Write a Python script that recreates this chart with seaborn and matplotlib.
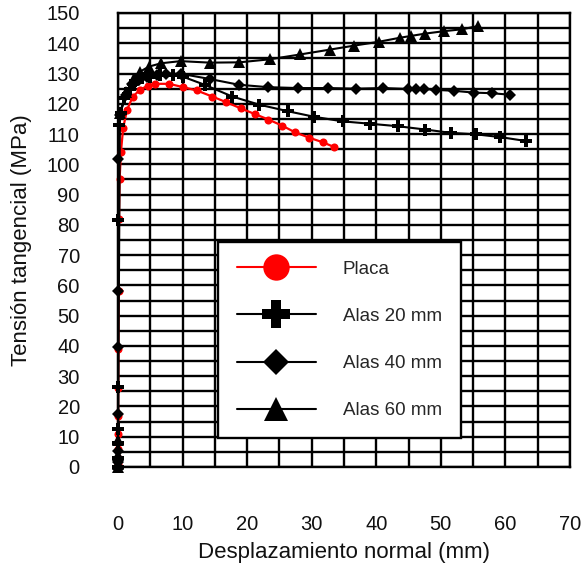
import matplotlib
matplotlib.use("Agg")
import matplotlib.pyplot as plt
from matplotlib.lines import Line2D
import pandas as pd
import seaborn as sns

# Shear stress vs normal displacement for a plain plate and flanged specimens
series_names = ["Placa", "Alas 20 mm", "Alas 40 mm", "Alas 60 mm"]

placa_x = [0, 0, 0, 0, 0, 0, 0.02, 0.05, 0.1, 0.15, 0.25, 0.45, 0.8, 1.4, 2.3,
           3.4, 4.6, 5.7, 7.9, 10.1, 12.2, 14.6, 16.8, 19.0, 21.2, 23.3, 25.4,
           27.4, 29.6, 31.7, 33.5]
placa_y = [0, 1, 3, 6, 11, 17, 26, 39, 58, 82, 95, 104, 112, 118, 122.4,
           124.6, 126.0, 126.6, 126.6, 125.5, 124.4, 122.4, 120.5, 118.5, 116.6,
           114.8, 112.8, 110.6, 108.8, 107.3, 105.7]

alas20_x = [0, 0, 0, 0, 0, 0, 0.2, 0.4, 1.0, 1.8, 2.7, 3.7, 5.0, 6.5, 8.5,
            10.0, 13.4, 17.7, 21.9, 26.4, 30.4, 34.8, 39.1, 43.3, 47.6, 51.5,
            55.5, 59.2, 63.2]
alas20_y = [0, 3.1, 8.0, 12.4, 26.5, 81.6, 113, 117, 122, 125, 127.5, 128.5,
            129, 129.5, 129.5, 129, 126.3, 122.4, 119.7, 117.5, 115.7, 114.2,
            113.4, 112.6, 111.5, 110.4, 109.9, 109.0, 107.7]

alas40_x = [0, 0, 0, 0, 0, 0, 0, 0.3, 1.2, 2.2, 3.3, 4.5, 6.0, 7.5, 9.8,
            14.2, 18.7, 23.2, 27.9, 32.5, 36.9, 41.1, 44.9, 46.1, 47.4, 49.2,
            52.0, 55.1, 57.9, 60.7]
alas40_y = [0, 1.5, 5.3, 17.6, 39.5, 58.2, 101.6, 116.4, 123, 126.5, 128,
            129, 129.5, 130, 129.9, 128.2, 126.3, 125.5, 125.2, 125.2, 125.0,
            125.2, 124.9, 124.9, 124.9, 124.6, 124.3, 123.7, 123.5, 123.0]

alas60_x = [0, 0, 0, 0, 0.3, 1.3, 2.3, 3.4, 4.8, 6.7, 9.7, 14.2, 18.8, 23.5,
            28.2, 32.8, 36.5, 40.4, 43.6, 45.3, 47.6, 50.5, 53.2, 55.8]
alas60_y = [0, 1, 4, 9, 117, 124, 127.9, 130.6, 132.3, 133.4, 134.1, 133.6,
            133.7, 134.7, 136.3, 137.9, 139.2, 140.5, 141.8, 142.4, 143.2,
            144.0, 144.6, 145.7]

x_ticks = list(range(0, 71, 10))
y_ticks = list(range(0, 151, 10))

series_data = {
    "Placa": (placa_x, placa_y),
    "Alas 20 mm": (alas20_x, alas20_y),
    "Alas 40 mm": (alas40_x, alas40_y),
    "Alas 60 mm": (alas60_x, alas60_y),
}

frames = []
for name in series_names:
    xs, ys = series_data[name]
    frames.append(pd.DataFrame({"desplazamiento": xs, "tension": ys,
                                "serie": name, "orden": range(len(xs))}))
df = pd.concat(frames, ignore_index=True)

sns.set_theme(style="white")
plt.rcParams["font.family"] = ["Liberation Sans", "DejaVu Sans"]

fig = plt.figure(figsize=(5.85, 5.67), dpi=100)
ax = fig.add_axes([118 / 585, 1 - 467 / 567, 452 / 585, 454 / 567])

# marker size on the curves / marker size in the key
styles = {
    "Placa": dict(color="#ff0000", marker="o", ms=5.8, key_ms=19, lw=1.6),
    "Alas 20 mm": dict(color="black", marker="P", ms=8.5, key_ms=20.5, lw=1.5),
    "Alas 40 mm": dict(color="black", marker="D", ms=6.2, key_ms=13.5, lw=1.5),
    "Alas 60 mm": dict(color="black", marker="^", ms=8.8, key_ms=17.5, lw=1.5),
}

for name in series_names:
    st = styles[name]
    sns.lineplot(data=df[df["serie"] == name], x="desplazamiento", y="tension",
                 estimator=None, sort=False, ax=ax, legend=False,
                 color=st["color"], marker=st["marker"],
                 markersize=st["ms"], linewidth=st["lw"],
                 markeredgewidth=0, markerfacecolor=st["color"],
                 clip_on=False, zorder=3)

ax.set_xlim(0, 70)
ax.set_ylim(0, 150)
ax.set_xticks(x_ticks)
ax.set_xticks(range(5, 70, 10), minor=True)
ax.set_yticks(y_ticks)
ax.set_yticks(range(5, 150, 10), minor=True)

grid_lw = 1.7
ax.grid(which="both", color="black", linewidth=grid_lw)
ax.set_axisbelow(True)
for sp in ax.spines.values():
    sp.set_visible(True)
    sp.set_color("black")
    sp.set_linewidth(grid_lw)

ax.tick_params(axis="both", which="major", direction="out", length=13.5,
               width=grid_lw, color="black", labelsize=14.5, labelcolor="#111111")
ax.tick_params(axis="both", which="minor", direction="out", length=7.5,
               width=grid_lw, color="black")
ax.tick_params(axis="x", which="major", pad=21)
ax.tick_params(axis="y", which="major", pad=14)

ax.set_xlabel("Desplazamiento normal (mm)", fontsize=16, color="#111111",
              labelpad=6)
ax.set_ylabel("Tensión tangencial (MPa)", fontsize=16, color="#111111",
              labelpad=10)

handles = [Line2D([], [], color=styles[n]["color"], lw=1.5,
                  marker=styles[n]["marker"], markersize=styles[n]["key_ms"],
                  markeredgewidth=0, markerfacecolor=styles[n]["color"])
           for n in series_names]
leg = ax.legend(handles, series_names, loc="upper left",
                bbox_to_anchor=(218 / 585, 1 - 242 / 567),
                bbox_transform=fig.transFigure, borderaxespad=0,
                fontsize=13.5, handlelength=4.2, handletextpad=1.45,
                labelspacing=1.6, borderpad=1.0,
                fancybox=False, framealpha=1, edgecolor="black")
leg.get_frame().set_linewidth(grid_lw)

fig.savefig("out.png", dpi=100)
